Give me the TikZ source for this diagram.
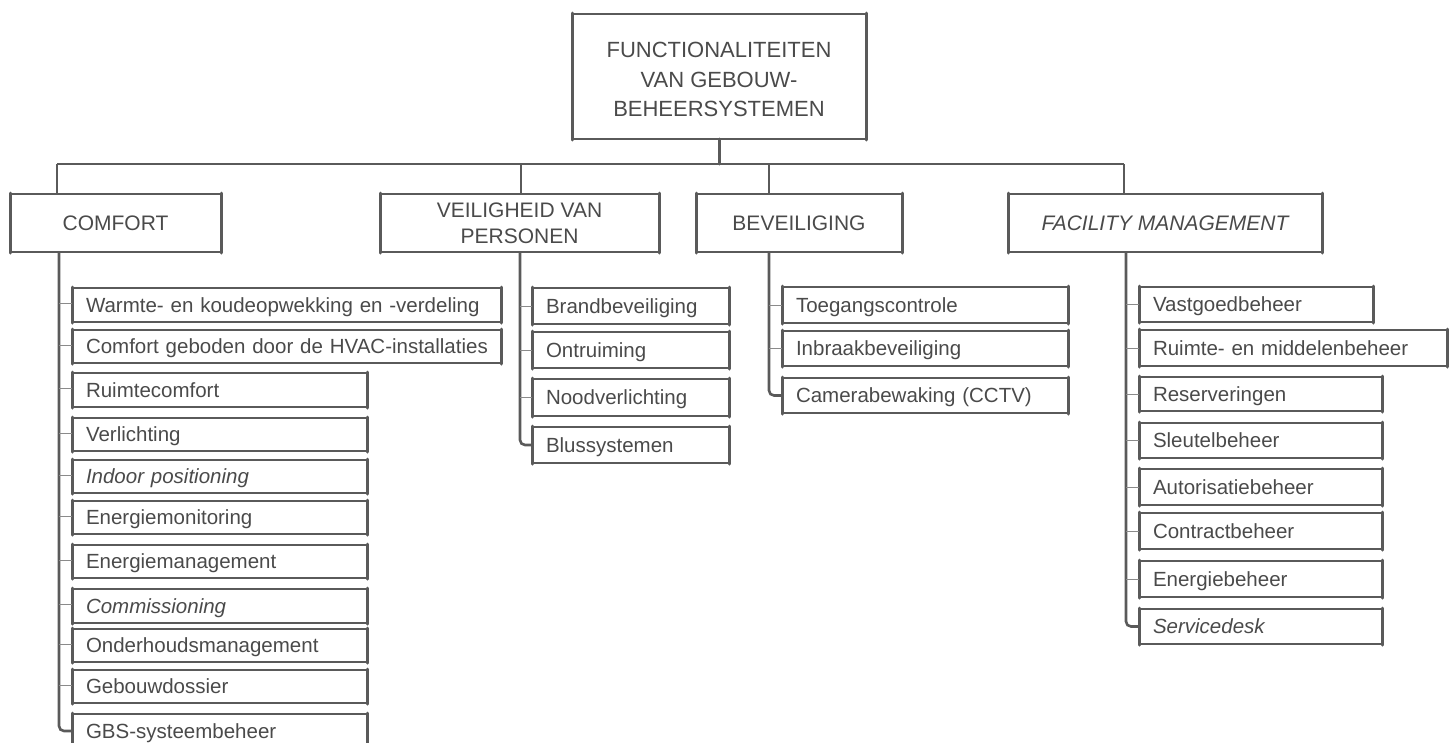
\documentclass[tikz,border=0pt]{standalone}
\usepackage{fontspec}
\setmainfont{Liberation Sans}
\definecolor{inkgrey}{HTML}{4A4A4A}
\definecolor{linegrey}{HTML}{5A5A5A}
\definecolor{tickgrey}{HTML}{8A8A8A}
\newcommand\leaffont{\fontsize{20.5}{24}\selectfont}
\newcommand\catfont{\fontsize{21}{26}\selectfont}
\newcommand\titlefont{\fontsize{22}{29.5}\selectfont}
% leaf box: name, left, top, right, bottom, text
\newcommand\leafbox[6]{%
  \pgfmathsetmacro\lw{#4-#2-28}\pgfmathsetmacro\lh{#5-#3}%
  \node[leaf, text width=\lw pt, minimum height=\lh pt] (#1) at (#2,#3) {\mbox{#6}};}
% category box: name, left, top, right, bottom, text
\newcommand\catbox[6]{%
  \pgfmathsetmacro\lw{#4-#2}\pgfmathsetmacro\lh{#5-#3}%
  \node[cat, minimum width=\lw pt, minimum height=\lh pt] (#1) at (#2,#3) {#6};}
\tikzset{
  boxbase/.style={draw=linegrey, line width=1.1pt, inner ysep=0pt, outer sep=0pt,
    anchor=north west, text=inkgrey},
  leaf/.style={boxbase, font=\leaffont, align=left, inner xsep=14pt,
    text height=14.7pt, text depth=0pt},
  cat/.style={boxbase, font=\catfont, align=center, inner xsep=0pt},
  side/.style={draw=linegrey, line width=3pt, line cap=round},
  bar/.style={draw=linegrey, line width=1.4pt},
  trunk/.style={draw=linegrey, line width=2.6pt, rounded corners=5pt},
  tick/.style={draw=tickgrey, line width=1pt},
}
\begin{document}
\begin{tikzpicture}[x=1pt,y=-1pt]
\useasboundingbox (0,0) rectangle (1453,742);

% top box, its three lines set a little below the middle
\node[cat, font=\titlefont, minimum width=294pt, minimum height=125pt] (title) at (572,14)
  {\raisebox{0pt}[\height][\dimexpr\depth-10pt\relax]{%
    \begin{tabular}{@{}c@{}}FUNCTIONALITEITEN\\VAN GEBOUW-\\BEHEERSYSTEMEN\end{tabular}}};

% categories
\catbox{comfort}{10}{194}{221}{252}{COMFORT}
\catbox{veilig}{380}{194}{659}{252}{VEILIGHEID VAN\\PERSONEN}
\catbox{bev}{696}{194}{902}{252}{BEVEILIGING}
\catbox{fac}{1008}{194}{1322}{252}{\itshape FACILITY MANAGEMENT}

% comfort items
\leafbox{c1}{72}{288}{501}{322}{Warmte- en koudeopwekking en -verdeling}
\leafbox{c2}{72}{330}{501}{363}{Comfort geboden door de HVAC-installaties}
\leafbox{c3}{72}{373}{367}{407}{Ruimtecomfort}
\leafbox{c4}{72}{418}{367}{451}{Verlichting}
\leafbox{c5}{72}{460}{367}{493}{\itshape Indoor positioning}
\leafbox{c6}{72}{501}{367}{534}{Energiemonitoring}
\leafbox{c7}{72}{545}{367}{578}{Energiemanagement}
\leafbox{c8}{72}{589}{367}{623}{\itshape Commissioning}
\leafbox{c9}{72}{629}{367}{662}{Onderhoudsmanagement}
\leafbox{c10}{72}{670}{367}{703}{Gebouwdossier}
\leafbox{c11}{72}{714}{367}{748}{GBS-systeembeheer}

% personal safety items
\leafbox{v1}{532}{288}{729}{324}{Brandbeveiliging}
\leafbox{v2}{532}{332}{729}{368}{Ontruiming}
\leafbox{v3}{532}{379}{729}{416}{Noodverlichting}
\leafbox{v4}{532}{427}{729}{463}{Blussystemen}

% security items
\leafbox{b1}{782}{287}{1068}{323}{Toegangscontrole}
\leafbox{b2}{782}{331}{1068}{366}{Inbraakbeveiliging}
\leafbox{b3}{782}{378}{1068}{413}{Camerabewaking (CCTV)}

% facility management items
\leafbox{f1}{1139}{287}{1373}{322}{Vastgoedbeheer}
\leafbox{f2}{1139}{330}{1447}{366}{Ruimte- en middelenbeheer}
\leafbox{f3}{1139}{377}{1382}{411}{Reserveringen}
\leafbox{f4}{1139}{423}{1382}{458}{Sleutelbeheer}
\leafbox{f5}{1139}{469}{1382}{505}{Autorisatiebeheer}
\leafbox{f6}{1139}{513}{1382}{549}{Contractbeheer}
\leafbox{f7}{1139}{561}{1382}{597}{Energiebeheer}
\leafbox{f8}{1139}{609}{1382}{644}{\itshape Servicedesk}

% heavy left and right edges of every box
\foreach \n in {title,comfort,veilig,bev,fac,c1,c2,c3,c4,c5,c6,c7,c8,c9,c10,c11,
                v1,v2,v3,v4,b1,b2,b3,f1,f2,f3,f4,f5,f6,f7,f8}{
  \draw[side] ([yshift=1pt]\n.north west) -- ([yshift=-1pt]\n.south west);
  \draw[side] ([yshift=1pt]\n.north east) -- ([yshift=-1pt]\n.south east);
}

% junctions on the distribution bar
\coordinate (jc) at (57,164);
\coordinate (jv) at (521,164);
\coordinate (jb) at (769,164);
\coordinate (jf) at (1124,164);

\draw[side] (title.south) -- (title.south |- jc);
\draw[bar] (jc) -- (jf);
\draw[bar] (jc) -- (jc |- comfort.north);
\draw[bar] (jv) -- (jv |- veilig.north);
\draw[bar] (jb) -- (jb |- bev.north);
\draw[bar] (jf) -- (jf |- fac.north);

% trunks down to the items
\coordinate (tc) at (59,0);
\coordinate (tv) at (520,0);
\coordinate (tb) at (769,0);
\coordinate (tf) at (1126,0);

\draw[trunk] (tc |- comfort.south) -- (tc |- c11.west) -- (c11.west);
\foreach \n in {c1,c2,c3,c4,c5,c6,c7,c8,c9,c10}{
  \draw[tick] ([yshift=1.5pt]tc |- \n.west) -- ([yshift=1.5pt]\n.west);
}
\draw[trunk] (tv |- veilig.south) -- (tv |- v4.west) -- (v4.west);
\foreach \n in {v1,v2,v3}{
  \draw[tick] (tv |- \n.west) -- (\n.west);
}
\draw[trunk] (tb |- bev.south) -- (tb |- b3.west) -- (b3.west);
\foreach \n in {b1,b2}{
  \draw[tick] (tb |- \n.west) -- (\n.west);
}
\draw[trunk] (tf |- fac.south) -- (tf |- f8.west) -- (f8.west);
\foreach \n in {f1,f2,f3,f4,f5,f6,f7}{
  \draw[tick] (tf |- \n.west) -- (\n.west);
}
\end{tikzpicture}
\end{document}
